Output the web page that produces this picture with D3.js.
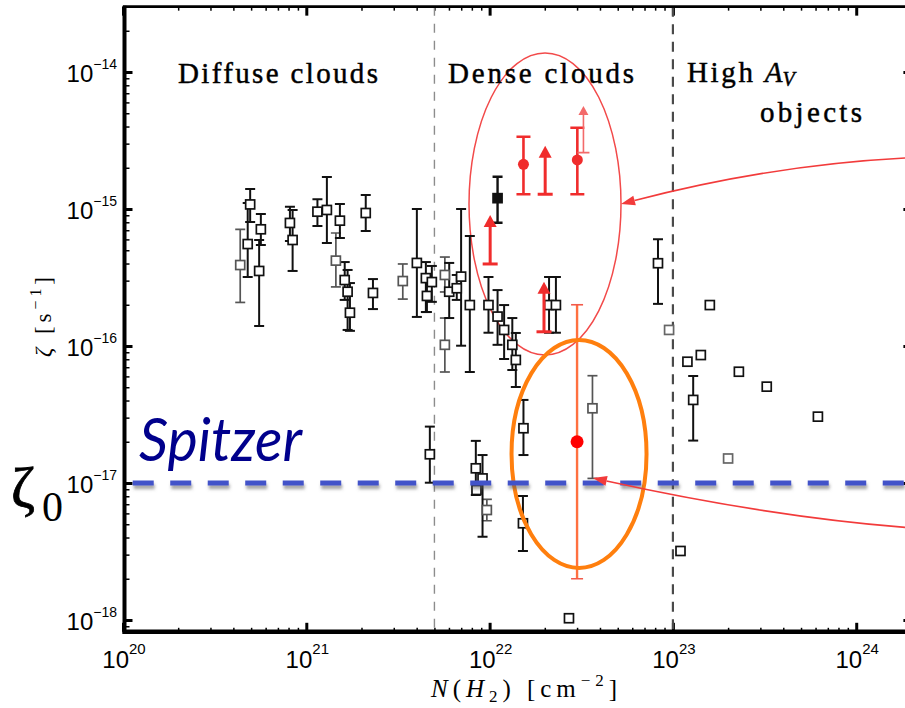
<!DOCTYPE html>
<html>
<head>
<meta charset="utf-8">
<script src="https://cdn.jsdelivr.net/npm/d3@7"></script>
<style>
  html, body { margin: 0; padding: 0; background: #fff; }
  svg { display: block; }
</style>
</head>
<body>
<svg id="chart" width="905" height="708"></svg>
<script>
// ---- data: N(H2) [cm^-2], zeta [s^-1], error-bar low end, error-bar high end ----
const measured = [
  [4.79e20, 5.55e-16, 3.19e-16, 1.106e-15],
  [4.94e20, 1.08e-15, 8.04e-16, 1.40e-15],
  [5.65e20, 7.11e-16, 5.46e-16, 9.19e-16],
  [5.53e20, 3.53e-16, 1.40e-16, 5.94e-16],
  [8.14e20, 7.91e-16, 5.84e-16, 1.04e-15],
  [8.42e20, 5.94e-16, 3.53e-16, 9.84e-16],
  [1.15e21, 9.56e-16, 7.52e-16, 1.18e-15],
  [1.295e21, 9.84e-16, 5.65e-16, 1.71e-15],
  [1.525e21, 8.22e-16, 6.14e-16, 1.088e-15],
  [1.62e21, 3.03e-16, 2.17e-16, 4.10e-16],
  [1.68e21, 2.49e-16, 1.31e-16, 3.59e-16],
  [1.73e21, 1.75e-16, 1.29e-16, 2.88e-16],
  [2.11e21, 9.35e-16, 6.91e-16, 1.265e-15],
  [2.31e21, 2.44e-16, 1.86e-16, 3.08e-16],
  [4.01e21, 4.04e-16, 1.63e-16, 1.0e-15],
  [4.49e21, 3.13e-16, 1.77e-16, 4.10e-16],
  [4.55e21, 2.32e-16, 1.77e-16, 3.03e-16],
  [4.84e21, 2.93e-16, 2.10e-16, 3.84e-16],
  [6.02e21, 2.49e-16, 1.60e-16, 4.04e-16],
  [6.62e21, 2.64e-16, 2.17e-16, 3.30e-16],
  [6.99e21, 3.21e-16, 1.005e-16, 1.0e-15],
  [7.80e21, 1.99e-16, 6.46e-17, 6.35e-16],
  [9.86e21, 1.99e-16, 1.25e-16, 3.19e-16],
  [1.105e22, 1.64e-16, 1.02e-16, 2.56e-16],
  [1.20e22, 1.31e-16, 8.04e-17, 1.99e-16],
  [1.33e22, 1.02e-16, 6.68e-17, 1.60e-16],
  [1.39e22, 7.91e-17, 5.02e-17, 1.245e-16],
  [1.53e22, 2.51e-17, 1.60e-17, 4.04e-17],
  [2.11e22, 1.99e-16, 1.25e-16, 3.19e-16],
  [2.30e22, 1.99e-16, 1.25e-16, 3.19e-16],
  [4.72e21, 1.62e-17, 1.005e-17, 2.58e-17],
  [8.41e21, 1.28e-17, 8.17e-18, 2.03e-17],
  [9.15e21, 1.08e-17, 4.06e-18, 1.60e-17],
  [1.52e22, 5.08e-18, 3.19e-18, 8.04e-18],
  [8.29e22, 4.02e-16, 2.03e-16, 6.01e-16],
  [1.29e23, 4.04e-17, 2.04e-17, 6.04e-17]
];
const measuredFaint = [
  [4.36e20, 3.90e-16, 2.08e-16, 7.11e-16],
  [1.45e21, 4.20e-16, 2.70e-16, 6.68e-16],
  [3.36e21, 2.98e-16, 2.20e-16, 3.97e-16],
  [5.70e21, 3.30e-16, 2.48e-16, 4.46e-16],
  [5.70e21, 1.02e-16, 6.46e-17, 1.60e-16],
  [9.66e21, 6.35e-18, 5.3e-18, 7.6e-18],
  [3.64e22, 3.51e-17, 1.08e-17, 6.07e-17]
];
const noErrors = [
  [8.48e21, 8.89e-18], [2.71e22, 1.03e-18], [1.59e23, 1.99e-16],
  [1.20e23, 7.68e-17], [1.42e23, 8.59e-17], [2.29e23, 6.49e-17],
  [3.25e23, 5.05e-17], [6.18e23, 3.05e-17], [1.10e23, 3.19e-18]
];
const noErrorsFaint = [[9.53e22, 1.31e-16], [2.00e23, 1.51e-17]];
const filledPoint = [[1.105e22, 1.20e-15, 7.94e-16, 1.72e-15]];

// H3+ detections and lower limits: [N, zeta, low, high] / [N, base, arrow tip]
const redDetections = [
  [1.53e22, 2.12e-15, 1.28e-15, 3.37e-15],
  [3.01e22, 2.28e-15, 1.28e-15, 3.92e-15]
];
const redLimits = [
  [1.007e22, 3.97e-16, 9.04e-16],
  [2.01e22, 1.28e-15, 2.90e-15],
  [1.98e22, 1.27e-16, 2.95e-16]
];
const redLimitsThin = [[3.25e22, 2.58e-15, 5.64e-15]];

// new estimate with its range
const spitzerPoint = [[3.0e22, 2.0e-17, 2.0e-18, 2.0e-16]];
const zeta0 = 1e-17;
const zeta0LineStart = 1.13e20;

// region boundaries in N(H2)
const regionBounds = [5e21, 1e23];

// annotations in data units: ellipse [Nmin, Nmax, zmin, zmax]
const redEllipse = [7.72e21, 5.21e22, 8.59e-17, 1.376e-14];
const orangeEllipse = [1.317e22, 7.18e22, 2.40e-18, 1.106e-16];
// arrows: [start, control, tip] as [N, zeta]
const arrowUpper = [[1.846e24, 2.357e-15], [3.43e23, 2.096e-15], [5.21e22, 1.088e-15]];
const arrowLower = [[2.0e24, 4.70e-18], [3.39e23, 5.65e-18], [3.66e22, 1.088e-17]];

// axes
const xDomain = [1e20, 2e24];
const yDomain = [8.2e-19, 3e-14];
const xTicks = [1e20, 1e21, 1e22, 1e23, 1e24];
const xTickExps = ["20", "21", "22", "23", "24"];
const yTicks = [1e-18, 1e-17, 1e-16, 1e-15, 1e-14];
const yTickExps = ["\u221218", "\u221217", "\u221216", "\u221215", "\u221214"];

// ---- drawing ----
const svg = d3.select("#chart");
const x = d3.scaleLog().domain(xDomain).range([123, 911.4]);
const y = d3.scaleLog().domain(yDomain).range([631.8, 6.65]);
const yTop = y(yDomain[1]), yBot = y(yDomain[0]);
const xLeft = x(xDomain[0]), xRight = x(xDomain[1]);

const defs = svg.append("defs");
const f = defs.append("filter").attr("id", "shadow").attr("filterUnits", "userSpaceOnUse")
  .attr("x", 0).attr("y", 0).attr("width", 905).attr("height", 708);
f.append("feDropShadow").attr("dx", 1).attr("dy", 3.5).attr("stdDeviation", 1.6)
  .attr("flood-color", "#555").attr("flood-opacity", 0.55);
defs.append("clipPath").attr("id", "plotClip").append("rect")
  .attr("x", xLeft).attr("y", yTop).attr("width", xRight - xLeft).attr("height", yBot - yTop);

// minor tick values for the log axes
function minorTicks(dom) {
  const out = [];
  const e0 = Math.floor(Math.log10(dom[0])), e1 = Math.ceil(Math.log10(dom[1]));
  for (let e = e0; e <= e1; e++) for (let k = 2; k <= 9; k++) {
    const v = k * Math.pow(10, e);
    if (v >= dom[0] && v <= dom[1]) out.push(v);
  }
  return out;
}
const minorX = minorTicks(xDomain), minorY = minorTicks(yDomain);

function addAxis(axis, tx, ty, w) {
  const g = svg.append("g").attr("transform", `translate(${tx},${ty})`).call(axis);
  g.select(".domain").remove();
  g.selectAll(".tick line").attr("stroke", "#000").attr("stroke-width", w);
  g.selectAll(".tick text").remove();
  return g;
}
addAxis(d3.axisBottom(x).tickValues(xTicks).tickSize(-9).tickFormat(""), 0, yBot, 3);
addAxis(d3.axisBottom(x).tickValues(minorX).tickSize(-4).tickFormat(""), 0, yBot, 1.5);
addAxis(d3.axisTop(x).tickValues(xTicks).tickSize(-9).tickFormat(""), 0, yTop, 3);
addAxis(d3.axisTop(x).tickValues(minorX).tickSize(-4).tickFormat(""), 0, yTop, 1.5);
addAxis(d3.axisLeft(y).tickValues(yTicks).tickSize(-8).tickFormat(""), xLeft + 1.5, 0, 3);
addAxis(d3.axisLeft(y).tickValues(minorY).tickSize(-5).tickFormat(""), xLeft + 1.5, 0, 1.5);
addAxis(d3.axisRight(y).tickValues(yTicks).tickSize(-8).tickFormat(""), xRight, 0, 3);
addAxis(d3.axisRight(y).tickValues(minorY).tickSize(-5).tickFormat(""), xRight, 0, 1.5);

// region boundary lines
const plot = svg.append("g").attr("clip-path", "url(#plotClip)");
plot.append("line").attr("x1", x(regionBounds[0])).attr("x2", x(regionBounds[0]))
  .attr("y1", yTop).attr("y2", yBot).attr("stroke", "#8c8c8c").attr("stroke-width", 1.4)
  .attr("stroke-dasharray", "9,8");
plot.append("line").attr("x1", x(regionBounds[1])).attr("x2", x(regionBounds[1]))
  .attr("y1", yTop).attr("y2", yBot).attr("stroke", "#4a4a4a").attr("stroke-width", 2.2)
  .attr("stroke-dasharray", "10,7.5");

// ellipse from data-unit bounds (log space)
function ellipse(g, b, color, w) {
  const cx = (x(b[0]) + x(b[1])) / 2, cy = (y(b[2]) + y(b[3])) / 2;
  g.append("ellipse").attr("cx", cx).attr("cy", cy)
    .attr("rx", (x(b[1]) - x(b[0])) / 2).attr("ry", (y(b[2]) - y(b[3])) / 2)
    .attr("fill", "none").attr("stroke", color).attr("stroke-width", w);
}
ellipse(plot, redEllipse, "#f24a4a", 1.5);

// error bars + square markers
function errorBars(g, rows, color, w, capW) {
  const bars = g.append("g").attr("stroke", color).attr("stroke-width", w);
  bars.selectAll("line.v").data(rows).join("line")
    .attr("x1", d => x(d[0])).attr("x2", d => x(d[0]))
    .attr("y1", d => y(d[2])).attr("y2", d => y(d[3]));
  bars.selectAll("line.c").data(rows.flatMap(d => [[d[0], d[2]], [d[0], d[3]]])).join("line")
    .attr("x1", d => x(d[0]) - capW / 2).attr("x2", d => x(d[0]) + capW / 2)
    .attr("y1", d => y(d[1])).attr("y2", d => y(d[1]));
}
function squares(g, rows, color, fill) {
  const s = 9;
  g.append("g").selectAll("rect").data(rows).join("rect")
    .attr("x", d => x(d[0]) - s / 2).attr("y", d => y(d[1]) - s / 2)
    .attr("width", s).attr("height", s)
    .attr("fill", fill).attr("stroke", color).attr("stroke-width", 1.7);
}
const pts = plot.append("g");
errorBars(pts, measuredFaint, "#555", 1.7, 10);
errorBars(pts, measured, "#111", 2, 10);
errorBars(pts, filledPoint, "#111", 2.4, 10);
squares(pts, measuredFaint, "#555", "#fff");
squares(pts, noErrorsFaint, "#666", "#fff");
squares(pts, measured, "#111", "#fff");
squares(pts, noErrors, "#111", "#fff");
squares(pts, filledPoint, "#111", "#111");

// H3+ points
const red = "#f02c2c";
errorBars(pts, redDetections, red, 2.6, 14);
pts.append("g").selectAll("circle").data(redDetections).join("circle")
  .attr("cx", d => x(d[0])).attr("cy", d => y(d[1])).attr("r", 5.5).attr("fill", red);

function limits(g, rows, color, w, capW, headW, headL) {
  const lg = g.append("g");
  lg.selectAll("line.v").data(rows).join("line")
    .attr("x1", d => x(d[0])).attr("x2", d => x(d[0]))
    .attr("y1", d => y(d[1])).attr("y2", d => y(d[2]) + headL - 1)
    .attr("stroke", color).attr("stroke-width", w);
  lg.selectAll("line.c").data(rows).join("line")
    .attr("x1", d => x(d[0]) - capW / 2).attr("x2", d => x(d[0]) + capW / 2)
    .attr("y1", d => y(d[1])).attr("y2", d => y(d[1]))
    .attr("stroke", color).attr("stroke-width", w);
  lg.selectAll("path").data(rows).join("path")
    .attr("d", d => {
      const px = x(d[0]), py = y(d[2]);
      return `M${px},${py}L${px - headW / 2},${py + headL}L${px + headW / 2},${py + headL}Z`;
    })
    .attr("fill", color);
}
limits(pts, redLimits, red, 3, 15, 13, 12);
limits(pts, redLimitsThin, "#f36a6a", 1.6, 12, 10, 9);

// new estimate
const sp = spitzerPoint[0];
pts.append("line").attr("x1", x(sp[0])).attr("x2", x(sp[0]))
  .attr("y1", y(sp[2])).attr("y2", y(sp[3])).attr("stroke", "#ff7040").attr("stroke-width", 2.4);
pts.selectAll("line.spcap").data([sp[2], sp[3]]).join("line")
  .attr("x1", x(sp[0]) - 6).attr("x2", x(sp[0]) + 6)
  .attr("y1", d => y(d)).attr("y2", d => y(d)).attr("stroke", "#f25a4a").attr("stroke-width", 1.6);
ellipse(plot, orangeEllipse, "#ff7f0e", 4);
pts.append("circle").attr("cx", x(sp[0])).attr("cy", y(sp[1])).attr("r", 6.5).attr("fill", "#ff0000");

// zeta_0 line
svg.append("line")
  .attr("x1", x(zeta0LineStart)).attr("x2", xRight)
  .attr("y1", y(zeta0)).attr("y2", y(zeta0))
  .attr("stroke", "#4352c9").attr("stroke-width", 5)
  .attr("stroke-dasharray", "21,16.5")
  .attr("filter", "url(#shadow)");

// arrows
function arrow(a, color) {
  const p = a.map(d => [x(d[0]), y(d[1])]);
  const tip = p[2], c = p[1];
  const dx = tip[0] - c[0], dy = tip[1] - c[1], len = Math.hypot(dx, dy);
  const ux = dx / len, uy = dy / len, L = 14, H = 5;
  const bx = tip[0] - ux * L, by = tip[1] - uy * L;
  svg.append("path")
    .attr("d", `M${p[0][0]},${p[0][1]}Q${c[0]},${c[1]} ${bx},${by}`)
    .attr("fill", "none").attr("stroke", color).attr("stroke-width", 1.6);
  svg.append("path")
    .attr("d", `M${tip[0]},${tip[1]}L${bx - uy * H},${by + ux * H}L${bx + uy * H},${by - ux * H}Z`)
    .attr("fill", color);
}
arrow(arrowUpper, "#f23b3b");
arrow(arrowLower, "#f23b3b");

// frame
const frame = svg.append("g").attr("stroke", "#000");
frame.append("line").attr("x1", xLeft + 1.5).attr("x2", xLeft + 1.5).attr("y1", yTop - 1).attr("y2", yBot + 2).attr("stroke-width", 4);
frame.append("line").attr("x1", xLeft - 0.5).attr("x2", xRight).attr("y1", yBot).attr("y2", yBot).attr("stroke-width", 4.5);
frame.append("line").attr("x1", xLeft).attr("x2", xRight).attr("y1", yTop).attr("y2", yTop).attr("stroke-width", 2.6);
frame.append("line").attr("x1", xRight).attr("x2", xRight).attr("y1", yTop).attr("y2", yBot).attr("stroke-width", 2.6);

// tick labels
const sans = "'Liberation Sans', Arial, Helvetica, sans-serif";
svg.append("g").selectAll("text").data(xTicks).join("text")
  .attr("x", d => x(d) + 1).attr("y", 668).attr("text-anchor", "middle")
  .attr("font-family", sans).attr("font-size", 24).attr("fill", "#000")
  .each(function (d, i) {
    const t = d3.select(this);
    t.append("tspan").text("10");
    t.append("tspan").attr("dy", -14).attr("font-size", 15).text(xTickExps[i]);
  });
svg.append("g").selectAll("text").data(yTicks).join("text")
  .attr("x", 117).attr("y", d => y(d) + 10).attr("text-anchor", "end")
  .attr("font-family", sans).attr("font-size", 24).attr("fill", "#000")
  .each(function (d, i) {
    const t = d3.select(this);
    t.append("tspan").text("10");
    t.append("tspan").attr("dy", -13).attr("font-size", 14).text(yTickExps[i]);
  });

// axis titles
const serif = "'Liberation Serif', 'Times New Roman', serif";
const xt = svg.append("text").attr("x", 431).attr("y", 697)
  .attr("font-family", serif).attr("font-size", 25).attr("fill", "#000")
  .attr("textLength", 186).attr("lengthAdjust", "spacing");
xt.append("tspan").attr("font-style", "italic").text("N");
xt.append("tspan").text("(");
xt.append("tspan").attr("font-style", "italic").text("H");
xt.append("tspan").attr("dy", 5).attr("font-size", 17).text("2");
xt.append("tspan").attr("dy", -5).text(")  [cm");
xt.append("tspan").attr("dy", -11).attr("font-size", 17).text("\u22122");
xt.append("tspan").attr("dy", 11).text("]");

const yt = svg.append("text").attr("transform", "translate(51,357) rotate(-90)")
  .attr("font-family", serif).attr("font-size", 23).attr("fill", "#000")
  .attr("textLength", 80).attr("lengthAdjust", "spacing");
yt.append("tspan").attr("font-style", "italic").text("\u03b6");
yt.append("tspan").text("  [s");
yt.append("tspan").attr("dy", -10).attr("font-size", 16).text("\u22121");
yt.append("tspan").attr("dy", 10).text("]");

// region labels
function label(txt, px, py, len) {
  return svg.append("text").attr("x", px).attr("y", py)
    .attr("font-family", serif).attr("font-size", 29).attr("fill", "#000")
    .attr("stroke", "#000").attr("stroke-width", 0.45)
    .attr("textLength", len).attr("lengthAdjust", "spacing").text(txt);
}
label("Diffuse clouds", 178, 83, 200);
label("Dense clouds", 448, 83, 186);
const hi = svg.append("text").attr("x", 687).attr("y", 82)
  .attr("font-family", serif).attr("font-size", 29).attr("fill", "#000")
  .attr("stroke", "#000").attr("stroke-width", 0.45);
hi.append("tspan").attr("textLength", 66).attr("lengthAdjust", "spacing").text("High");
hi.append("tspan").attr("dx", 9).attr("font-style", "italic").text("A");
hi.append("tspan").attr("dy", 4).attr("font-size", 20).attr("font-style", "italic").text("V");
label("objects", 760, 122, 102);

// Spitzer annotation and zeta_0 marker
svg.append("text").attr("x", 139).attr("y", 461)
  .attr("font-family", "Lato, 'Open Sans', sans-serif").attr("font-style", "italic")
  .attr("font-size", 60).attr("fill", "#00008c")
  .attr("textLength", 163).attr("lengthAdjust", "spacingAndGlyphs").text("Spitzer");
svg.append("text").attr("x", 11).attr("y", 507)
  .attr("font-family", serif).attr("font-size", 58).attr("fill", "#000")
  .attr("stroke", "#000").attr("stroke-width", 0.8).text("\u03b6");
svg.append("text").attr("x", 42).attr("y", 521)
  .attr("font-family", serif).attr("font-size", 42).attr("fill", "#000").text("0");
</script>
</body>
</html>
